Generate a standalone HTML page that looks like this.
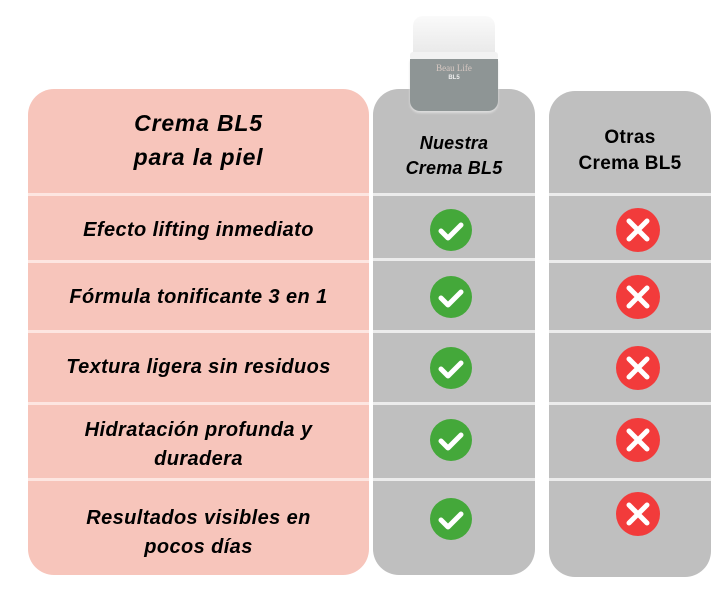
<!DOCTYPE html>
<html><head><meta charset="utf-8"><style>
body{margin:0;width:721px;height:609px;background:#fff;position:relative;overflow:hidden;font-family:"Liberation Sans",sans-serif;}
.col{position:absolute;border-radius:26px;}
.ln{position:absolute;height:3px;}
.t{position:absolute;font-weight:bold;font-style:italic;color:#000;text-align:center;font-size:20px;line-height:28px;letter-spacing:0.4px;white-space:nowrap;}
</style></head><body>
<div class="col" style="left:28px;top:89px;width:341px;height:486px;background:#f7c5bb"></div>
<div class="col" style="left:373px;top:89px;width:162px;height:486px;background:#bfbfbf"></div>
<div class="col" style="left:549px;top:91px;width:162px;height:486px;background:#bfbfbf"></div>

<div class="ln" style="left:28px;width:341px;top:193px;background:#fde6e1"></div>
<div class="ln" style="left:28px;width:341px;top:260px;background:#fde6e1"></div>
<div class="ln" style="left:28px;width:341px;top:330px;background:#fde6e1"></div>
<div class="ln" style="left:28px;width:341px;top:402px;background:#fde6e1"></div>
<div class="ln" style="left:28px;width:341px;top:478px;background:#fde6e1"></div>
<div class="ln" style="left:373px;width:162px;top:193px;background:#ececec"></div>
<div class="ln" style="left:373px;width:162px;top:258px;background:#ececec"></div>
<div class="ln" style="left:373px;width:162px;top:330px;background:#ececec"></div>
<div class="ln" style="left:373px;width:162px;top:402px;background:#ececec"></div>
<div class="ln" style="left:373px;width:162px;top:478px;background:#ececec"></div>
<div class="ln" style="left:549px;width:162px;top:193px;background:#ececec"></div>
<div class="ln" style="left:549px;width:162px;top:260px;background:#ececec"></div>
<div class="ln" style="left:549px;width:162px;top:330px;background:#ececec"></div>
<div class="ln" style="left:549px;width:162px;top:402px;background:#ececec"></div>
<div class="ln" style="left:549px;width:162px;top:478px;background:#ececec"></div>

<!-- jar -->
<div style="position:absolute;left:413px;top:16px;width:82px;height:40px;background:linear-gradient(#fafafa,#e8e8e8);border-radius:10px 10px 4px 4px"></div>
<div style="position:absolute;left:410px;top:52px;width:88px;height:8px;background:#f2f2f2;border-radius:3px"></div>
<div style="position:absolute;left:410px;top:59px;width:88px;height:52px;background:#8e9595;border-radius:0 0 10px 10px;box-shadow:0 2px 2px #ddd"></div>
<div style="position:absolute;left:410px;top:63px;width:88px;text-align:center;font-family:'Liberation Serif',serif;font-size:9px;color:#d8c9c3">Beau Life</div>
<div style="position:absolute;left:410px;top:75px;width:88px;text-align:center;font-size:6px;font-weight:bold;color:#eee">BL5</div>

<div class="t" style="left:28px;top:106px;width:341px;font-size:23px;line-height:34px;letter-spacing:0.8px">Crema BL5<br>para la piel</div>
<div class="t" style="left:373px;top:131px;width:162px;font-size:18px;line-height:25px;letter-spacing:0.2px">Nuestra<br>Crema BL5</div>
<div class="t" style="left:549px;top:125px;width:162px;font-size:19px;line-height:26px;font-style:normal;letter-spacing:0.3px">Otras<br>Crema BL5</div>

<div class="t" style="left:28px;top:216px;width:341px">Efecto lifting inmediato</div>
<div class="t" style="left:28px;top:283px;width:341px">Fórmula tonificante 3 en 1</div>
<div class="t" style="left:28px;top:353px;width:341px">Textura ligera sin residuos</div>
<div class="t" style="left:28px;top:416px;width:341px;line-height:29px">Hidratación profunda y<br>duradera</div>
<div class="t" style="left:28px;top:504px;width:341px;line-height:29px">Resultados visibles en<br>pocos días</div>

<svg style="position:absolute;left:0;top:0" width="721" height="609">
<g fill="#44a83a" stroke="#fff" stroke-width="5" stroke-linecap="round" stroke-linejoin="round">
<circle cx="451" cy="230" r="21" stroke="none"/><path d="M441 231l7 7 13-13" fill="none"/>
<circle cx="451" cy="297" r="21" stroke="none"/><path d="M441 298l7 7 13-13" fill="none"/>
<circle cx="451" cy="368" r="21" stroke="none"/><path d="M441 369l7 7 13-13" fill="none"/>
<circle cx="451" cy="440" r="21" stroke="none"/><path d="M441 441l7 7 13-13" fill="none"/>
<circle cx="451" cy="519" r="21" stroke="none"/><path d="M441 520l7 7 13-13" fill="none"/>
</g>
<g fill="#f23b3b" stroke="#fff" stroke-width="5" stroke-linecap="round">
<circle cx="638" cy="230" r="22" stroke="none"/><path d="M629 221l18 18M647 221l-18 18"/>
<circle cx="638" cy="297" r="22" stroke="none"/><path d="M629 288l18 18M647 288l-18 18"/>
<circle cx="638" cy="368" r="22" stroke="none"/><path d="M629 359l18 18M647 359l-18 18"/>
<circle cx="638" cy="440" r="22" stroke="none"/><path d="M629 431l18 18M647 431l-18 18"/>
<circle cx="638" cy="514" r="22" stroke="none"/><path d="M629 505l18 18M647 505l-18 18"/>
</g>
</svg>
</body></html>
